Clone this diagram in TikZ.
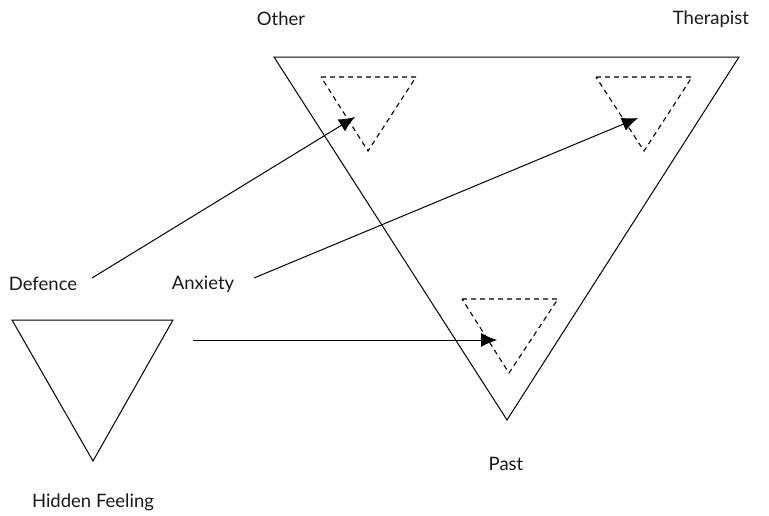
\documentclass[tikz,border=0pt]{standalone}
\usepackage{fontspec}
\setmainfont{Lato}
\usetikzlibrary{arrows.meta}
\begin{document}
\begin{tikzpicture}[x=1pt,y=-1pt,
  edge/.style={line width=1pt, line join=miter},
  inner/.style={line width=1.1pt, dash pattern=on 5pt off 4pt},
  link/.style={line width=1pt, -{Latex[length=16pt,width=14pt]}},
  lab/.style={font=\fontsize{18.5}{22}\selectfont, text=black!90, inner sep=0pt}]
\useasboundingbox (0,0) rectangle (769,515);

% large triangle: Other -- Therapist -- Past
\coordinate (bigA) at (274,57);
\coordinate (bigB) at (739,57);
\coordinate (bigC) at (507,420);
\draw[edge] (bigA) -- (bigB) -- (bigC) -- cycle;

% dashed inner triangles
\coordinate (d1a) at (321,77);  \coordinate (d1b) at (416,77);  \coordinate (d1c) at (368,151);
\coordinate (d2a) at (596,77);  \coordinate (d2b) at (692,77);  \coordinate (d2c) at (644,151);
\coordinate (d3a) at (462,299); \coordinate (d3b) at (558,299); \coordinate (d3c) at (509,373);
\draw[inner] (d1a) -- (d1b) -- (d1c) -- cycle;
\draw[inner] (d2a) -- (d2b) -- (d2c) -- cycle;
\draw[inner] (d3a) -- (d3b) -- (d3c) -- cycle;

% small triangle: Defence -- Anxiety -- Hidden Feeling
\coordinate (smA) at (12,320);
\coordinate (smB) at (173,320);
\coordinate (smC) at (93,461);
\draw[edge] (smA) -- (smB) -- (smC) -- cycle;

% labels
\node[lab] (other) at (281,19) {Other};
\node[lab] (therapist) at (711,19) {Therapist};
\node[lab] (past) at (506,464) {Past};
\node[lab] (defence) at (43,284) {Defence};
\node[lab] (anxiety) at (203,284) {Anxiety};
\node[lab] (hidden) at (93,502) {Hidden Feeling};

% transference arrows
\coordinate (defS) at (92,278);
\coordinate (defT) at (355,117);
\coordinate (anxS) at (254,278);
\coordinate (anxT) at (638,118);
\coordinate (hidS) at (193,340);
\coordinate (hidT) at (497,340);
\draw[link] (defS) -- (defT);
\draw[link] (anxS) -- (anxT);
\draw[link] (hidS) -- (hidT);
\end{tikzpicture}
\end{document}
